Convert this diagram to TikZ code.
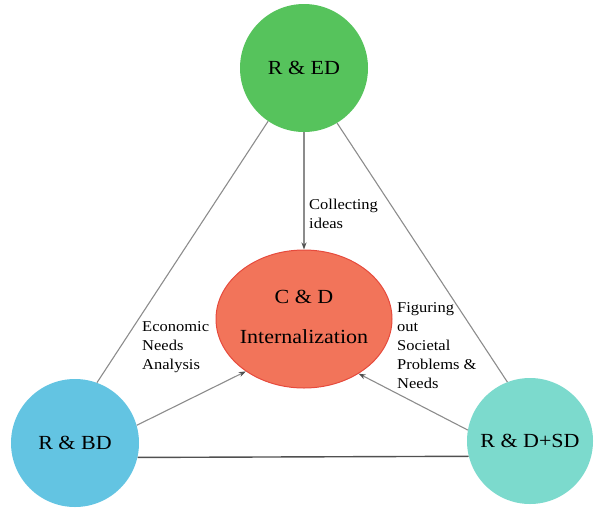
\documentclass[tikz,border=0pt]{standalone}
\usepackage{fontspec}
\setmainfont{Liberation Serif}[FakeStretch=1.1]
\usetikzlibrary{arrows.meta,shapes.geometric}

\definecolor{edgreen}{RGB}{86,195,92}
\definecolor{bdblue}{RGB}{99,196,226}
\definecolor{sdteal}{RGB}{124,218,205}
\definecolor{cdfill}{RGB}{242,116,90}
\definecolor{cdedge}{RGB}{230,74,60}
\definecolor{linegray}{RGB}{140,140,140}
\definecolor{darkline}{RGB}{80,80,80}

\begin{document}
\begin{tikzpicture}[x=1pt, y=-1pt,
        hub/.style={circle, minimum size=128pt, inner sep=0pt, font=\fontsize{20}{24}\selectfont},
        link/.style={draw=linegray, line width=1.1pt},
        feed/.style={link, -{Stealth[length=7pt, width=5pt, color=darkline]}},
        note/.style={align=left, anchor=north west, inner sep=0pt, font=\fontsize{15}{19}\selectfont}]
        \useasboundingbox (0,0) rectangle (594,507);
        \node [hub, fill=edgreen] (ED) at (304,68) {R \& ED};
        \node [hub, fill=bdblue] (BD) at (75,443) {R \& BD};
        \node [hub, fill=sdteal, minimum size=126pt] (SD) at (530,441) {R \& D+SD};
        \node [ellipse, draw=cdedge, line width=1pt, fill=cdfill, minimum width=176pt, minimum height=138pt, inner sep=0pt] (CD) at (304,319) {};
        \node [align=center, inner sep=0pt, font=\fontsize{20}{40}\selectfont] (CDtext) at (304,316.5) {C \& D\\Internalization};
        \draw [link] (ED.236) -- (BD.70);
        \draw [link] (ED.301) -- (SD.111);
        \draw [link, draw=darkline, line width=1.4pt] (BD.-13) -- (SD.194);
        \draw [feed] (ED) -- (CD);
        \draw [feed] (BD.16) -- (CD.222.6);
        \draw [feed] (SD.170) -- (CD.315);
        \node [note] (collect) at (309,198.5) {Collecting\\ideas};
        \node [note] (econ) at (142,321.5) {Economic\\Needs\\Analysis};
        \node [note] (societal) at (397,302.5) {Figuring\\out\\Societal\\Problems \&\\Needs};
    \end{tikzpicture}
\end{document}
